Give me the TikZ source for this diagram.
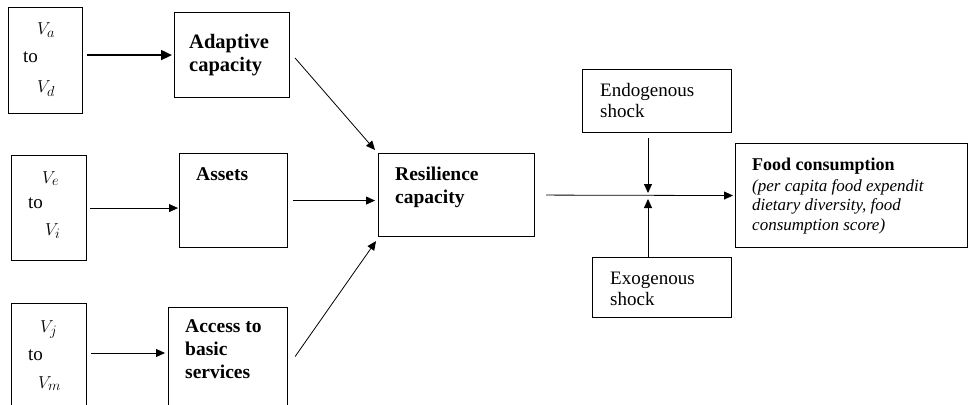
\documentclass[tikz,border=0pt]{standalone}
\usepackage{fontspec}
\setmainfont{Liberation Serif}
\usetikzlibrary{arrows.meta}

\tikzset{
  box/.style={draw, line width=1.1pt, inner sep=0pt, anchor=north west},
  lbl/.style={anchor=base west, inner sep=0pt, align=left, font=\fontsize{19.5}{23}\selectfont\bfseries},
  plain/.style={anchor=base west, inner sep=0pt, align=left, font=\fontsize{19}{20.5}\selectfont},
  var/.style={anchor=base west, inner sep=0pt, font=\fontsize{19}{20}\selectfont},
  arr/.style={line width=0.8pt, -{Triangle[length=9pt,width=8pt]}},
  bigarr/.style={line width=1.8pt, -{Triangle[length=11pt,width=10pt]}}
}

\begin{document}
\begin{tikzpicture}[x=1pt, y=-1pt]
	\useasboundingbox (0,0) rectangle (968,404);
	\clip (0,0) rectangle (968,404);

	% variable groups
	\node[box, minimum width=74pt, minimum height=106pt] (vad) at (8,7) {};
	\node[var] (va) at (37,35) {$V_a$};
	\node[plain] (tad) at (23,63) {to};
	\node[var] (vd) at (37,92) {$V_d$};

	\node[box, minimum width=75pt, minimum height=105pt] (vei) at (11,155) {};
	\node[var] (ve) at (42,183) {$V_e$};
	\node[plain] (tei) at (28,208) {to};
	\node[var] (vi) at (45,235) {$V_i$};

	\node[box, minimum width=75pt, minimum height=120pt] (vjm) at (11,303) {};
	\node[var] (vj) at (40,332) {$V_j$};
	\node[plain] (tjm) at (28,360) {to};
	\node[var] (vm) at (38,388) {$V_m$};

	% components (base = last line)
	\node[box, minimum width=115pt, minimum height=85pt] (adapt) at (174,12) {};
	\node[lbl, font=\fontsize{20.5}{23}\selectfont\bfseries] (adaptt) at (189,71) {Adaptive\\capacity};
	\node[box, minimum width=108pt, minimum height=94pt] (assets) at (179,153) {};
	\node[lbl] (assetst) at (196,180) {Assets};
	\node[box, minimum width=119pt, minimum height=110pt] (acc) at (168,307) {};
	\node[lbl] (acct) at (185,378) {Access to\\basic\\services};

	\node[box, minimum width=156pt, minimum height=83pt] (resil) at (378,153) {};
	\node[lbl] (resilt) at (395,203) {Resilience\\capacity};

	% shocks and outcome
	\node[box, minimum width=149pt, minimum height=63pt] (endo) at (582,69) {};
	\node[plain] (endot) at (600,117) {Endogenous\\shock};
	\node[box, minimum width=139pt, minimum height=60pt] (exo) at (592,257) {};
	\node[plain] (exot) at (610,305) {Exogenous\\shock};

	\node[box, minimum width=232pt, minimum height=104pt] (food) at (735,143) {};
	\node[lbl, font=\fontsize{18}{21}\selectfont\bfseries] (foodt) at (752,170) {Food consumption};
	\node[anchor=base west, inner sep=0pt, align=left, font=\fontsize{17}{19.5}\selectfont\itshape] (foodd) at (752,230) {(per capita food expendit\\dietary diversity, food\\consumption score)};

	\coordinate (junc) at (648,196);
	\coordinate (accin) at (165,353);

	% connectors
	\draw[bigarr, shorten <=4pt, shorten >=2pt] (vad.east |- adapt.west) -- (adapt.west);
	\draw[arr, shorten <=3pt, shorten >=1pt] (vei.east) -- (vei.east -| assets.west);
	\draw[arr, shorten <=4pt] (vjm.east |- accin) -- (accin);

	\draw[arr] ([shift={(5,3)}]adapt.east) -- ([shift={(-3,-3)}]resil.north west);
	\draw[arr, shorten <=5pt, shorten >=3pt] (assets.east) -- (assets.east -| resil.west);
	\draw[arr] ([shift={(7,-6)}]acc.east) -- ([shift={(-2,4)}]resil.south west);

	\draw[arr, shorten <=11pt, shorten >=2pt] (resil.east) -- (food.west);
	\draw[arr, shorten <=5pt, shorten >=3pt] (endo.south -| junc) -- (junc);
	\draw[arr, shorten >=3pt] (exo.north -| junc) -- (junc);
\end{tikzpicture}
\end{document}
